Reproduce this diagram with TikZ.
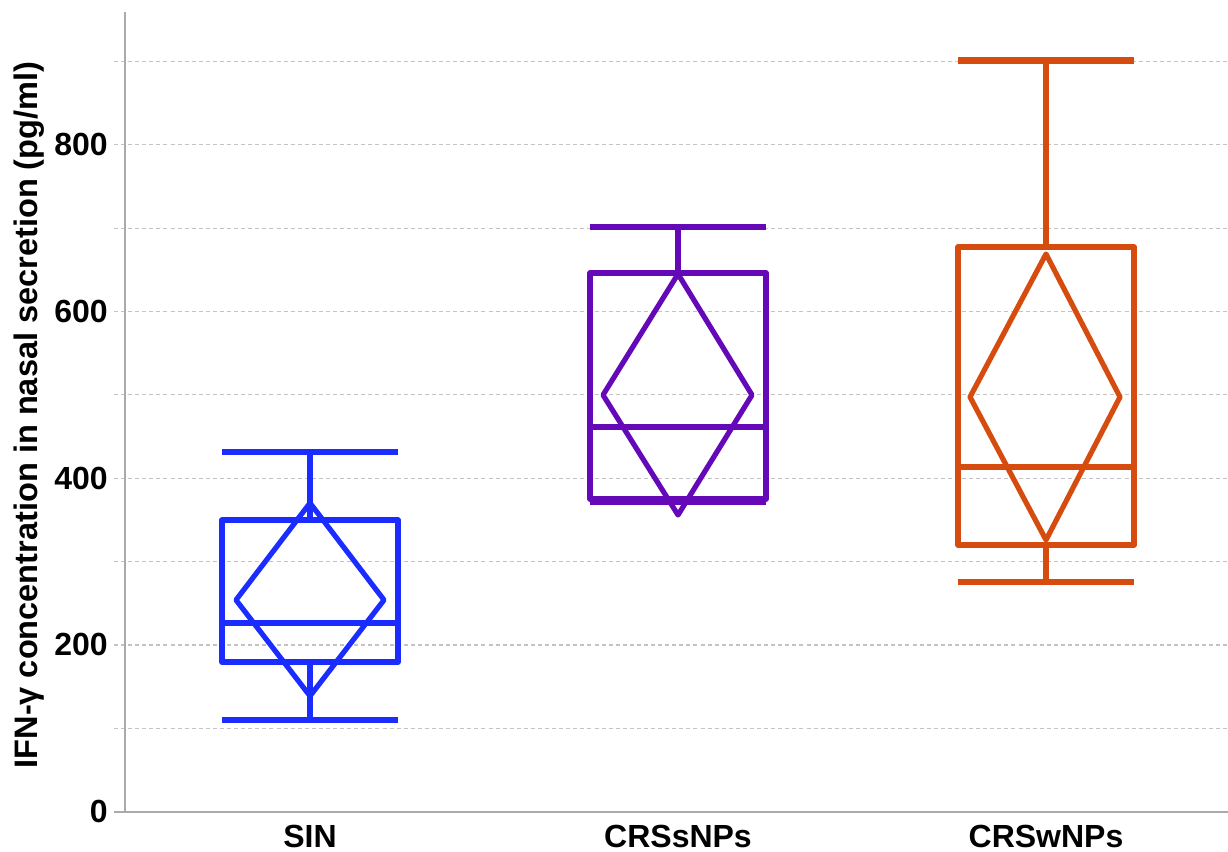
\documentclass[tikz,border=0pt]{standalone}
\usepackage{fontspec}
\setmainfont{Liberation Sans}
\definecolor{gridgray}{RGB}{195,195,195}
\definecolor{axisgray}{RGB}{170,170,170}
\definecolor{sinblue}{RGB}{26,44,255}
\definecolor{crsspurple}{RGB}{100,8,184}
\definecolor{crswor}{RGB}{214,76,14}
\begin{document}
\begin{tikzpicture}[x=0.75pt,y=-0.75pt,
  grid/.style={draw=gridgray, line width=0.8pt, dash pattern=on 3pt off 2.3pt},
  axisline/.style={draw=axisgray, line width=1.2pt},
  bp/.style={line width=3.9pt, line join=round},
  whisk/.style={line width=4.6pt},
  lbl/.style={font=\fontsize{24}{28}\selectfont\bfseries, inner sep=0pt}]
\useasboundingbox (0,0) rectangle (1228,852);
% grid lines
\foreach \v in {1,...,9}
  \draw[grid] (114,{811.7-83.36*\v}) -- (1228,{811.7-83.36*\v});
% axes
\draw[axisline] (125,12) -- (125,811.7);
\draw[axisline] (114,811.7) -- (1228,811.7);
% tick labels
\foreach \v/\n in {0/t0,2/t2,4/t4,6/t6,8/t8}
  \node[lbl, anchor=base east] (\n) at (108,{811.7-83.36*\v+11}) {\the\numexpr\v*100\relax};
% axis title
\node[lbl, font=\fontsize{24.4}{28}\selectfont\bfseries, rotate=90, anchor=base] (ytitle) at (37,415) {IFN-γ concentration in nasal secretion (pg/ml)};
% category labels
\node[lbl, anchor=base] (cSIN) at (310,847) {SIN};
\node[lbl, anchor=base] (cS) at (678,847) {CRSsNPs};
\node[lbl, anchor=base] (cW) at (1046,847) {CRSwNPs};
% SIN
\begin{scope}[draw=sinblue]
  \draw[whisk] (222,452) -- (398,452);
  \draw[whisk] (310,452) -- (310,520);
  \draw[whisk] (222,720) -- (398,720);
  \draw[whisk] (310,720) -- (310,662);
  \draw[bp] (222,520) rectangle (398,662);
  \draw[bp] (222,623) -- (398,623);
  \draw[bp] (310,503) -- (384,600) -- (310,696) -- (236,600) -- cycle;
\end{scope}
% CRSsNPs
\begin{scope}[draw=crsspurple]
  \draw[whisk] (590,227) -- (766,227);
  \draw[whisk] (678,227) -- (678,273);
  \draw[whisk] (590,502) -- (766,502);
  \draw[bp] (590,273) rectangle (766,499);
  \draw[bp] (590,427) -- (766,427);
  \draw[bp] (678,274) -- (752,395) -- (678,515) -- (603,395) -- cycle;
\end{scope}
% CRSwNPs
\begin{scope}[draw=crswor]
  \draw[whisk] (958,60.5) -- (1134,60.5);
  \draw[whisk] (1046,60.5) -- (1046,247);
  \draw[whisk] (958,582) -- (1134,582);
  \draw[whisk] (1046,582) -- (1046,545);
  \draw[bp] (958,247) rectangle (1134,545);
  \draw[bp] (958,467) -- (1134,467);
  \draw[bp] (1046,254) -- (1120,397) -- (1046,540) -- (970,397) -- cycle;
\end{scope}
\end{tikzpicture}
\end{document}
